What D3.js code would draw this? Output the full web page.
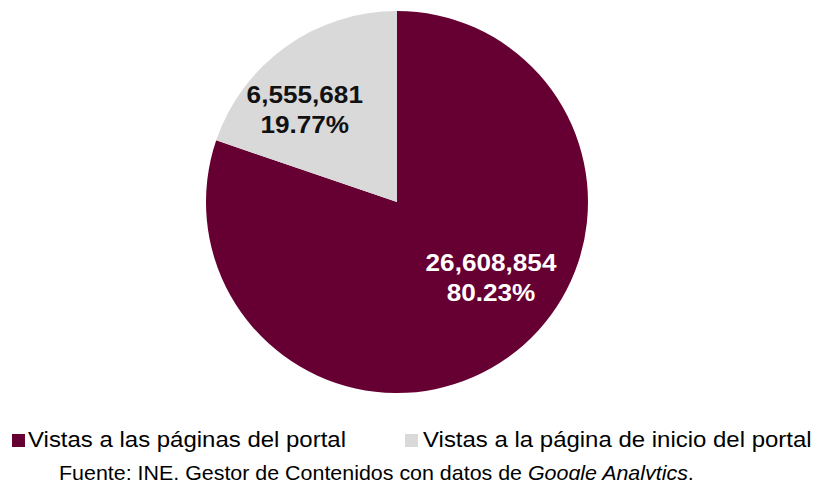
<!DOCTYPE html>
<html>
<head>
<meta charset="utf-8">
<script src="https://cdn.jsdelivr.net/npm/d3@7"></script>
<style>
  body { margin: 0; background: #fff; }
  text { font-family: "Liberation Sans", Arial, sans-serif; }
</style>
</head>
<body>
<svg id="chart" width="814" height="480"></svg>
<script>
const categories = ['Vistas a las páginas del portal', 'Vistas a la página de inicio del portal'];
const values = [26608854, 6555681];
const percents = ['80.23%', '19.77%'];
const source = 'Fuente: INE, Gestor de Contenidos con datos de ';
const sourceItalic = 'Google Analytics';

const width = 814;
const height = 480;
const cx = 397;
const cy = 202;
const radius = 191;
const stretch = 1.09; // text in the original is a bit wide

const color = d3.scaleOrdinal()
  .domain(categories)
  .range(['#660033', '#d9d9d9']);

const svg = d3.select('#chart');

const data = categories.map((c, i) => ({ name: c, value: values[i], pct: percents[i] }));

const pie = d3.pie()
  .sort(null)
  .value(d => d.value);

const arc = d3.arc()
  .innerRadius(0)
  .outerRadius(radius);

const arcs = pie(data);

const g = svg.append('g')
  .attr('transform', `translate(${cx}, ${cy})`);

g.selectAll('path')
  .data(arcs)
  .enter()
  .append('path')
  .attr('d', arc)
  .attr('fill', d => color(d.data.name));

// labels: centroid of each slice, nudged like the original
const labelRadius = [0.54, 0.56];
const labelNudge = [[34, -13], [-30, -10]];
const labelArc = (d, i) => d3.arc()
  .innerRadius(radius * labelRadius[i])
  .outerRadius(radius * labelRadius[i])
  .centroid(d);

const labels = g.selectAll('g.lbl')
  .data(arcs)
  .enter()
  .append('g')
  .attr('class', 'lbl')
  .attr('transform', (d, i) => {
    const [x, y] = labelArc(d, i);
    return `translate(${x + labelNudge[i][0]}, ${y + labelNudge[i][1]}) scale(${stretch}, 1)`;
  });

labels.append('text')
  .attr('text-anchor', 'middle')
  .attr('y', -2)
  .attr('font-size', 24)
  .attr('font-weight', 'bold')
  .attr('fill', (d, i) => i === 0 ? '#fff' : '#111')
  .text(d => d3.format(',')(d.data.value));

labels.append('text')
  .attr('text-anchor', 'middle')
  .attr('y', 28)
  .attr('font-size', 24)
  .attr('font-weight', 'bold')
  .attr('fill', (d, i) => i === 0 ? '#fff' : '#111')
  .text(d => d.data.pct);

// legend
const legendX = [12, 405];
const legend = svg.append('g')
  .selectAll('g')
  .data(categories)
  .enter()
  .append('g')
  .attr('transform', (d, i) => `translate(${legendX[i]}, 434)`);

legend.append('rect')
  .attr('width', 13)
  .attr('height', 13)
  .attr('fill', d => color(d));

legend.append('text')
  .attr('transform', (d, i) => `translate(${i === 0 ? 16 : 18}, 13) scale(${stretch}, 1)`)
  .attr('font-size', 22)
  .attr('fill', '#000')
  .text(d => d);

const src = svg.append('text')
  .attr('transform', 'translate(59, 480) scale(1.02, 1)')
  .attr('font-size', 21)
  .attr('fill', '#000');

src.append('tspan').text(source);
src.append('tspan').attr('font-style', 'italic').text(sourceItalic);
src.append('tspan').text('.');
</script>
</body>
</html>
